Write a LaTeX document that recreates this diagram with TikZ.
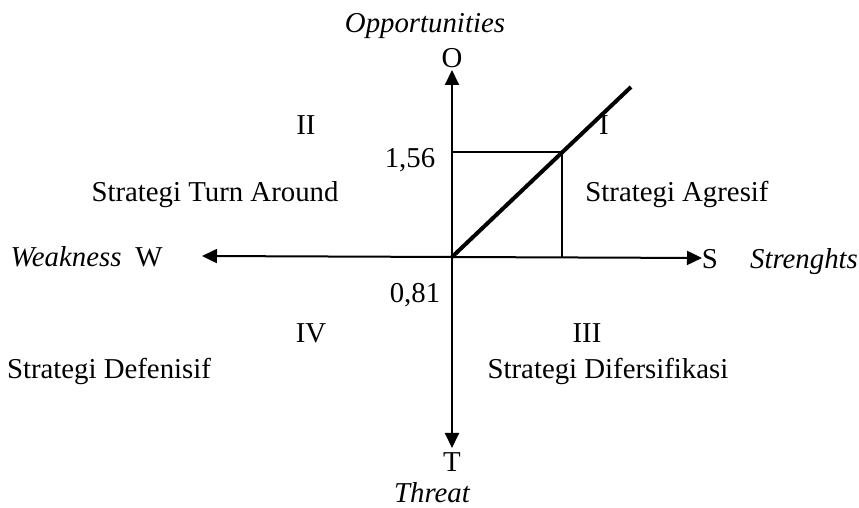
\documentclass[tikz,border=0pt]{standalone}
\usepackage{fontspec}
\setmainfont{Liberation Serif}
\usetikzlibrary{arrows.meta}

\begin{document}
\begin{tikzpicture}[
    x=0.5pt, y=0.5pt,
    txt/.style={font=\fontsize{14.4}{17}\selectfont, anchor=base, inner sep=0pt},
    itl/.style={txt, font=\fontsize{14.4}{17}\selectfont\itshape},
    axis/.style={line width=1pt, {Triangle[length=7.5pt,width=7pt]}-{Triangle[length=7.5pt,width=7pt]}},
    guide/.style={line width=0.75pt}
]
    \useasboundingbox (-452,-251) rectangle (407,257);

    % Axis ends
    \coordinate (org) at (0,0);
    \coordinate (oTip) at (0,187);
    \coordinate (tTip) at (0,-191);
    \coordinate (wTip) at (-250,1);
    \coordinate (sTip) at (250,-1);

    % Axis labels
    \node[itl] (opp) at (-27,224) {Opportunities};
    \node[txt] (o) at (0,189) {O};
    \node[txt] (t) at (0,-215) {T};
    \node[itl] (thr) at (-20,-246) {Threat};
    \node[itl] (weak) at (-386,-10) {Weakness};
    \node[txt] (w) at (-303,-10) {W};
    \node[txt] (s) at (258,-12) {S};
    \node[itl] (str) at (352,-12) {Strenghts};

    % Axes
    \draw[axis] (tTip) -- (oTip);
    \draw[axis] (wTip) -- (sTip);

    % Position
    \coordinate (sq) at (110,105);
    \coordinate (sqY) at (0,105);
    \coordinate (sqX) at (110,0);
    \coordinate (diag) at (179,170);
    \draw[guide] (sqY) -- (sq) -- (sqX);
    \draw[line width=2pt] (org) -- (diag);
    \node[txt] (vy) at (-42,89) {1,56};
    \node[txt] (vx) at (-37,-46) {0,81};

    % Quadrants
    \node[txt] (q2) at (-146,122) {II};
    \node[txt] (q1) at (152,122) {I};
    \node[txt] (q4) at (-141,-86) {IV};
    \node[txt] (q3) at (135,-86) {III};
    \node[txt] (s2) at (-237,55) {Strategi Turn Around};
    \node[txt] (s1) at (225,55) {Strategi Agresif};
    \node[txt] (s4) at (-343,-122) {Strategi Defenisif};
    \node[txt] (s3) at (156,-122) {Strategi Difersifikasi};
\end{tikzpicture}
\end{document}
